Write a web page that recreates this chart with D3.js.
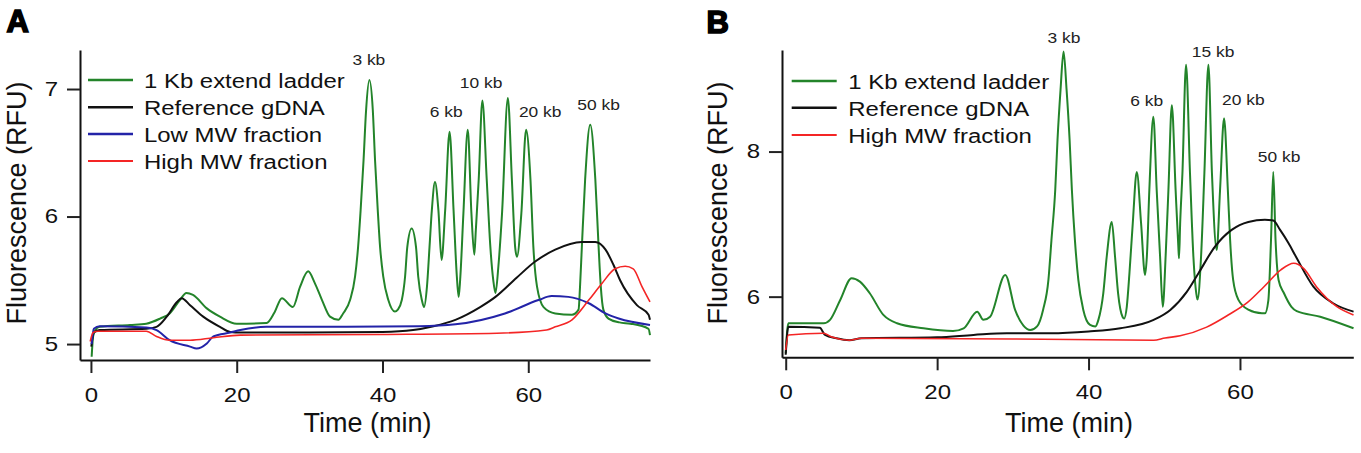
<!DOCTYPE html>
<html><head><meta charset="utf-8">
<script src="https://cdn.jsdelivr.net/npm/d3@7"></script>
<style>
html,body{margin:0;padding:0;background:#fff;}
svg{display:block;font-family:"Liberation Sans",Arial,Helvetica,sans-serif;}
</style></head><body>
<svg id="chart" width="1361" height="453"></svg>
<script>
// ---------------- data (time in min, fluorescence in RFU) ----------------
const xTicksA = [0, 20, 40, 60];
const yTicksA = [5, 6, 7];
const xTicksB = [0, 20, 40, 60];
const yTicksB = [6, 8];

const legendA = ["1 Kb extend ladder", "Reference gDNA", "Low MW fraction", "High MW fraction"];
const legendB = ["1 Kb extend ladder", "Reference gDNA", "High MW fraction"];

const peakLabelsA = [["3 kb", 38.13, 7.188], ["6 kb", 48.73, 6.783], ["10 kb", 53.53, 7.005], ["20 kb", 61.63, 6.778], ["50 kb", 69.64, 6.835]];
const peakLabelsB = [["3 kb", 36.76, 9.495], ["15 kb", 56.45, 9.31], ["6 kb", 47.69, 8.63], ["20 kb", 60.45, 8.644], ["50 kb", 65.17, 7.862]];

const ladderA = [[0.1,4.9],[0.3,5.06],[0.6,5.11],[1.2,5.135],[5.35,5.15],[7.6,5.16],[9.5,5.20],[10.8,5.24],[12.2,5.345],[13.1,5.40],[14.0,5.385],[15.9,5.28],[17.7,5.215],[20.0,5.16],[24.1,5.165],[25.2,5.25],[26.2,5.36],[27.7,5.29],[28.7,5.45],[29.8,5.57],[30.7,5.48],[31.7,5.345],[32.8,5.215],[33.95,5.19],[34.6,5.24],[35.55,5.345],[36.24,5.53],[36.65,5.76],[37.0,6.05],[37.4,6.44],[37.75,6.835],[38.2,7.07],[38.67,6.835],[38.98,6.44],[39.35,6.05],[39.67,5.76],[40.1,5.53],[40.8,5.345],[41.7,5.255],[42.1,5.27],[42.65,5.345],[43.1,5.53],[43.4,5.76],[44.0,5.907],[44.6,5.76],[44.9,5.53],[45.4,5.345],[45.7,5.29],[46.1,5.45],[46.45,5.76],[46.77,6.05],[47.2,6.27],[47.67,6.05],[48.1,5.66],[48.6,6.05],[49.2,6.665],[49.75,6.05],[50.2,5.53],[50.45,5.37],[50.65,5.50],[51.1,6.025],[51.7,6.68],[52.2,6.025],[52.6,5.70],[52.8,5.89],[53.2,6.29],[53.7,6.91],[54.3,6.29],[54.8,5.76],[55.2,5.50],[55.5,5.40],[55.9,5.61],[56.4,6.025],[57.2,6.93],[57.75,6.29],[58.2,5.76],[58.45,5.685],[59.05,6.025],[59.7,6.68],[60.3,6.29],[60.7,5.76],[61.2,5.45],[62.1,5.29],[63.7,5.24],[66.0,5.23],[66.9,5.27],[67.1,5.45],[67.35,5.76],[67.8,6.29],[68.5,6.72],[69.2,6.29],[69.65,5.76],[69.95,5.45],[70.3,5.27],[71.0,5.20],[72.5,5.17],[74.0,5.16],[76.5,5.12],[76.7,5.07]];
const refA = [[0.05,4.98],[0.4,5.09],[1.2,5.11],[7.6,5.12],[9.0,5.135],[10.4,5.215],[11.8,5.33],[12.45,5.36],[13.6,5.305],[15.4,5.215],[17.7,5.135],[19.1,5.095],[20.5,5.09],[30,5.09],[40,5.095],[44.2,5.11],[47,5.14],[50,5.19],[53.4,5.29],[55.5,5.37],[58.4,5.52],[60.9,5.645],[63.7,5.74],[67.35,5.80],[69.2,5.80],[70.6,5.74],[71.7,5.62],[72.6,5.50],[74.9,5.305],[76.5,5.23],[76.7,5.19]];
const lowA = [[0.1,5.0],[0.4,5.12],[1.2,5.14],[7.6,5.13],[9.0,5.11],[10.8,5.03],[13.6,4.98],[14.5,4.965],[15.9,5.005],[16.8,5.06],[19.1,5.09],[20.5,5.11],[24.1,5.135],[35,5.135],[45,5.14],[50,5.155],[56.8,5.24],[61.4,5.345],[63.2,5.376],[65.5,5.37],[68.3,5.32],[70.6,5.24],[72.4,5.2],[76.7,5.15]];
const highA = [[-0.1,5.02],[0.3,5.09],[1.0,5.10],[7.6,5.10],[9.0,5.06],[10.8,5.03],[13.6,5.03],[16.8,5.05],[20.5,5.07],[40,5.075],[55.7,5.085],[62.5,5.11],[63.7,5.135],[66.0,5.19],[68.3,5.345],[70.1,5.475],[71.9,5.59],[73.3,5.61],[74.4,5.59],[75.6,5.45],[76.7,5.33]];

const ladderB = [[0.0,5.22],[0.35,5.633],[5.0,5.633],[5.85,5.68],[7.2,5.954],[8.7,6.254],[9.8,6.207],[11.1,6.047],[12.9,5.748],[14.7,5.633],[18.2,5.564],[22.1,5.527],[23.5,5.564],[25.3,5.793],[26.1,5.68],[27.0,5.724],[29.0,6.30],[30.3,5.817],[31.4,5.6],[32.3,5.54],[33.2,5.59],[34.0,5.82],[34.7,6.23],[35.1,6.78],[35.6,7.47],[35.9,8.16],[36.3,8.85],[36.7,9.38],[37.1,8.85],[37.5,8.16],[37.8,7.47],[38.2,6.78],[38.65,6.23],[39.3,5.82],[40.2,5.61],[40.9,5.59],[41.3,5.68],[41.95,6.05],[42.4,6.55],[43.07,7.03],[43.5,6.55],[43.9,6.05],[44.5,5.72],[44.7,5.70],[45.05,5.86],[45.4,6.32],[45.84,7.01],[46.37,7.72],[46.94,7.01],[47.46,6.30],[47.7,6.55],[48.03,7.47],[48.56,8.48],[49.0,7.47],[49.45,6.55],[49.8,5.86],[50.2,6.6],[50.55,7.47],[51.0,8.64],[51.5,7.47],[51.86,6.69],[51.95,6.53],[52.1,7.01],[52.4,7.70],[52.88,9.196],[53.4,7.70],[53.85,6.55],[54.3,6.0],[54.4,5.96],[54.86,6.55],[55.3,7.70],[55.83,9.196],[56.3,7.70],[56.93,6.644],[57.37,7.47],[57.9,8.46],[58.4,7.47],[58.7,6.78],[59.1,6.23],[59.8,5.955],[61.1,5.82],[62.9,5.77],[63.3,5.77],[63.75,5.95],[64.1,6.78],[64.4,7.72],[64.7,6.78],[65.1,6.23],[65.8,6.05],[66.8,5.86],[67.5,5.8],[70.6,5.724],[75,5.564]];
const refB = [[0.0,5.2],[0.35,5.586],[4.5,5.57],[5.2,5.472],[6.7,5.426],[8.4,5.40],[10,5.426],[20,5.44],[24.8,5.472],[29.2,5.495],[35,5.495],[40,5.52],[44.2,5.564],[48.6,5.68],[50.8,5.817],[53.0,6.07],[54.5,6.32],[56.7,6.69],[58.9,6.92],[61.1,7.03],[63.3,7.06],[64.4,7.05],[65.3,6.92],[66.4,6.74],[67.4,6.55],[69.7,6.138],[72.3,5.909],[75,5.793]];
const highB = [[0.0,5.265],[0.35,5.472],[5.0,5.495],[6.0,5.448],[8.4,5.40],[10,5.426],[30,5.417],[48.6,5.40],[50.1,5.43],[52.1,5.46],[55.6,5.58],[58.5,5.75],[61.0,5.92],[63.2,6.14],[65.4,6.37],[67.1,6.46],[68.4,6.39],[70.1,6.138],[72.8,5.862],[75,5.748]];

const colors = {ladder: "#23842a", ref: "#111111", low: "#2323a8", high: "#f42525"};
const widths = {ladder: 2, ref: 2, low: 2, high: 1.6};

// ---------------- drawing ----------------
const svg = d3.select("#chart");

function panel(cfg) {
  const x = d3.scaleLinear().domain(cfg.xDomain).range(cfg.xRange);
  const y = d3.scaleLinear().domain(cfg.yDomain).range(cfg.yRange);
  const g = svg.append("g");

  const line = d3.line().x(d => x(d[0])).y(d => y(d[1])).curve(d3.curveMonotoneX);
  cfg.series.forEach(s => {
    g.append("path").datum(s.data)
      .attr("fill", "none").attr("stroke", colors[s.key])
      .attr("stroke-width", widths[s.key]).attr("stroke-linejoin", "round")
      .attr("d", line);
  });

  // axes
  const xa = g.append("g").attr("transform", `translate(0,${cfg.yRange[0]})`)
    .call(d3.axisBottom(x).tickValues(cfg.xTicks).tickSize(13).tickSizeOuter(0).tickPadding(15).tickFormat(d3.format("d")));
  const ya = g.append("g").attr("transform", `translate(${cfg.xRange[0]},0)`)
    .call(d3.axisLeft(y).tickValues(cfg.yTicks).tickSize(13).tickSizeOuter(0).tickFormat(d3.format("d")));
  [xa, ya].forEach(a => {
    a.select(".domain").attr("stroke", "#111").attr("stroke-width", 2);
    a.selectAll(".tick line").attr("stroke", "#222").attr("stroke-width", 2);
    a.selectAll(".tick text").attr("fill", "#111").style("font-size", "20px")
      .style("font-family", '"Liberation Sans",Arial,sans-serif').attr("transform", "scale(1.2,1)");
  });
  ya.selectAll(".tick text").attr("x", -22 / 1.2);

  // axis titles
  g.append("text").attr("x", cfg.xTitle[0]).attr("y", cfg.xTitle[1])
    .attr("text-anchor", "middle").style("font-size", "27px").attr("fill", "#111").text("Time (min)");
  g.append("text").attr("transform", `translate(${cfg.yTitle[0]},${cfg.yTitle[1]}) rotate(-90)`)
    .attr("text-anchor", "middle").style("font-size", "27px").attr("fill", "#111").text("Fluorescence (RFU)");

  // panel label
  g.append("text").attr("x", cfg.label[1]).attr("y", cfg.label[2])
    .style("font-size", "31px").style("font-weight", "bold")
    .attr("fill", "#000").attr("stroke", "#000").attr("stroke-width", 1.6).text(cfg.label[0]);

  // legend
  cfg.legend.forEach((name, i) => {
    const ly = cfg.legendY[i];
    g.append("line").attr("x1", cfg.legendX[0]).attr("x2", cfg.legendX[1])
      .attr("y1", ly).attr("y2", ly)
      .attr("stroke", colors[cfg.series[i].key]).attr("stroke-width", widths[cfg.series[i].key] + 0.4);
    g.append("text").attr("transform", `translate(${cfg.legendX[2]},${ly + 8}) scale(1.14,1)`)
      .style("font-size", "21px").attr("fill", "#111").text(name);
  });

  // peak labels
  cfg.peaks.forEach(p => {
    g.append("text").attr("transform", `translate(${x(p[1])},${y(p[2])}) scale(1.2,1)`)
      .attr("text-anchor", "middle").style("font-size", "14.5px").attr("fill", "#222").text(p[0]);
  });
}

panel({
  xDomain: [-1.5, 76.7], xRange: [80, 650],
  yDomain: [4.875, 7.306], yRange: [360, 50],
  xTicks: xTicksA, yTicks: yTicksA,
  series: [{key: "ladder", data: ladderA}, {key: "ref", data: refA}, {key: "low", data: lowA}, {key: "high", data: highA}],
  legend: legendA, legendX: [88, 133, 144], legendY: [80, 107.3, 134, 161],
  peaks: peakLabelsA,
  xTitle: [367.5, 432], yTitle: [26, 203],
  label: ["A", 6.5, 32.3]
});

panel({
  xDomain: [-0.49, 74.97], xRange: [782, 1353.3],
  yDomain: [5.164, 9.40], yRange: [357.3, 50],
  xTicks: xTicksB, yTicks: yTicksB,
  series: [{key: "ladder", data: ladderB}, {key: "ref", data: refB}, {key: "high", data: highB}],
  legend: legendB, legendX: [791.7, 836.7, 848.3], legendY: [81, 107.7, 135],
  peaks: peakLabelsB,
  xTitle: [1069, 432], yTitle: [727, 203],
  label: ["B", 706.5, 33.3]
});
</script>
</body></html>
